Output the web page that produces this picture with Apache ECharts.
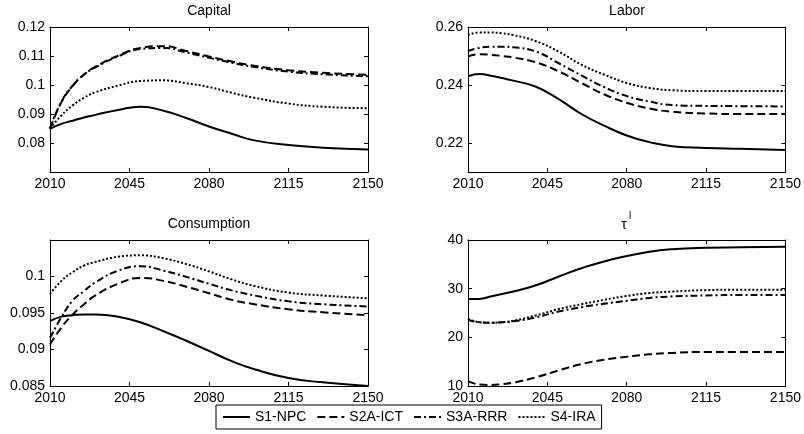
<!DOCTYPE html>
<html><head><meta charset="utf-8">
<script src="https://cdn.jsdelivr.net/npm/echarts@6/dist/echarts.min.js"></script>
<style>html,body{margin:0;padding:0;background:#fff}#c{width:804px;height:434px}</style>
</head><body><div id="c"></div>
<script>
// ---------- data ----------
const years = [2010,2015,2020,2025,2030,2040,2050,2060,2070,2080,2090,2100,2115,2130,2150];
const seriesNames = ['S1-NPC','S2A-ICT','S3A-RRR','S4-IRA'];
const xTicks = [2010,2045,2080,2115,2150];

const capitalS1 = [0.0849,0.0866,0.0877,0.0888,0.0897,0.0914,0.0925,0.0911,0.0886,0.0857,0.0832,0.0809,0.0793,0.0784,0.0778];
const capitalS2 = [0.0850,0.0940,0.0997,0.1036,0.1063,0.1101,0.1128,0.1134,0.1117,0.1098,0.1081,0.1066,0.1051,0.1042,0.1035];
const capitalS3 = [0.0850,0.0942,0.0998,0.1036,0.1061,0.1099,0.1124,0.1128,0.1112,0.1094,0.1077,0.1062,0.1046,0.1037,0.1030];
const capitalS4 = [0.0850,0.0895,0.0930,0.0956,0.0975,0.0998,0.1014,0.1016,0.1006,0.0993,0.0973,0.0956,0.0936,0.0925,0.0920];

const laborS1 = [0.2430,0.2438,0.2432,0.2424,0.2415,0.2394,0.2351,0.2300,0.2260,0.2226,0.2203,0.2189,0.2183,0.2180,0.2176];
const laborS2 = [0.2498,0.2506,0.2504,0.2500,0.2495,0.2478,0.2447,0.2407,0.2368,0.2339,0.2319,0.2308,0.2302,0.2300,0.2300];
const laborS3 = [0.2517,0.2528,0.2532,0.2532,0.2530,0.2515,0.2475,0.2433,0.2393,0.2362,0.2343,0.2331,0.2328,0.2327,0.2326];
const laborS4 = [0.2572,0.2581,0.2581,0.2578,0.2572,0.2551,0.2515,0.2470,0.2436,0.2407,0.2390,0.2382,0.2379,0.2379,0.2379];

const consS1 = [0.0939,0.0945,0.0947,0.0948,0.0948,0.0945,0.0937,0.0925,0.0912,0.0898,0.0884,0.0873,0.0861,0.0855,0.0850];
const consS2 = [0.0907,0.0930,0.0948,0.0962,0.0974,0.0990,0.0998,0.0994,0.0986,0.0977,0.0968,0.0962,0.0955,0.0951,0.0947];
const consS3 = [0.0916,0.0944,0.0967,0.0980,0.0992,0.1008,0.1014,0.1008,0.09995,0.0990,0.0981,0.0974,0.0966,0.0962,0.0959];
const consS4 = [0.0976,0.0994,0.1006,0.1015,0.1020,0.1027,0.1029,0.1025,0.1017,0.1007,0.0996,0.0987,0.0978,0.0974,0.0970];

const tauS1 = [27.9,27.9,28.4,28.9,29.4,30.7,32.5,34.2,35.6,36.7,37.6,38.1,38.4,38.5,38.6];
const tauS2 = [11.0,10.3,10.2,10.4,10.7,11.8,13.2,14.5,15.4,16.0,16.5,16.8,17.0,17.0,17.0];
const tauS3 = [23.6,23.1,23.0,23.1,23.3,24.1,25.3,26.2,26.9,27.5,28.1,28.4,28.6,28.7,28.7];
const tauS4 = [23.8,23.1,23.0,23.1,23.4,24.5,25.8,26.8,27.7,28.5,29.1,29.4,29.7,29.8,29.8];

const capitalTicks = [0.08,0.09,0.1,0.11,0.12];
const laborTicks = [0.22,0.24,0.26];
const consTicks = [0.085,0.09,0.095,0.1];
const tauTicks = [10,20,30,40];

// ---------- layout ----------
const FONT = 'Liberation Sans, Arial, sans-serif';
const panels = [
  {title:'Capital', grid:{left:50,top:27,width:318,height:145}, ymin:0.07, ymax:0.12, ticks:capitalTicks, data:[capitalS1,capitalS2,capitalS3,capitalS4]},
  {title:'Labor', grid:{left:468,top:27,width:318,height:145}, ymin:0.21, ymax:0.26, ticks:laborTicks, data:[laborS1,laborS2,laborS3,laborS4]},
  {title:'Consumption', grid:{left:50,top:240,width:318,height:146}, ymin:0.085, ymax:0.105, ticks:consTicks, data:[consS1,consS2,consS3,consS4]},
  {title:'τ', sup:'l', grid:{left:468,top:240,width:318,height:146}, ymin:10, ymax:40, ticks:tauTicks, data:[tauS1,tauS2,tauS3,tauS4]}
];
const lineTypes = ['solid',[8,4],[7,3,2,3],[2,2]];

const grids = [], xAxes = [], yAxes = [], titles = [], series = [];
const axLine = {show:true, lineStyle:{color:'#000', width:1}};
panels.forEach((p, i) => {
  grids.push(Object.assign({show:false, containLabel:false}, p.grid));
  const cx = p.grid.left + p.grid.width/2;
  titles.push({
    text: p.title, left: p.sup ? cx - 3 : cx, top: p.grid.top - (p.sup ? 15 : 16),
    textAlign:'center', textVerticalAlign:'middle', padding:0,
    textStyle:{fontFamily:FONT, fontSize:14, fontWeight:'normal', color:'#000'}
  });
  if (p.sup) {
    titles.push({
      text: p.sup, left: cx + 3, top: p.grid.top - 24,
      textAlign:'center', textVerticalAlign:'middle', padding:0,
      textStyle:{fontFamily:FONT, fontSize:10, fontWeight:'normal', color:'#000'}
    });
  }
  const xCommon = {type:'value', gridIndex:i, min:2010, max:2150,
    axisLine:axLine, splitLine:{show:false},
    axisTick:{show:true, inside:true, length:4, customValues:xTicks, lineStyle:{color:'#000'}}};
  xAxes.push(Object.assign({}, xCommon, {position:'bottom',
    axisLabel:{show:true, customValues:xTicks, margin:5, color:'#000', fontFamily:FONT, fontSize:14,
      formatter: v => String(v)}}));
  xAxes.push(Object.assign({}, xCommon, {position:'top', axisLabel:{show:false}}));
  const yCommon = {type:'value', gridIndex:i, min:p.ymin, max:p.ymax,
    axisLine:axLine, splitLine:{show:false},
    axisTick:{show:true, inside:true, length:4, customValues:p.ticks, lineStyle:{color:'#000'}}};
  yAxes.push(Object.assign({}, yCommon, {position:'left',
    axisLabel:{show:true, customValues:p.ticks, margin:5, color:'#000', fontFamily:FONT, fontSize:14,
      formatter: v => String(+v.toFixed(4))}}));
  yAxes.push(Object.assign({}, yCommon, {position:'right', axisLabel:{show:false}}));
  p.data.forEach((arr, j) => {
    series.push({
      name: seriesNames[j], type:'line', xAxisIndex:2*i, yAxisIndex:2*i,
      data: years.map((y, k) => [y, arr[k]]),
      showSymbol:false, symbol:'none', smooth:0.5,
      lineStyle:{color:'#000', width:2, type:lineTypes[j]},
      itemStyle:{color:'#000'}, z: 5 - j, silent:true, animation:false
    });
  });
});

const chart = echarts.init(document.getElementById('c'), null, {renderer:'canvas'});
chart.setOption({
  animation:false,
  backgroundColor:'#fff',
  title: titles,
  grid: grids,
  xAxis: xAxes,
  yAxis: yAxes,
  legend:{
    data: seriesNames, left:216, top:405, orient:'horizontal',
    itemWidth:27, itemHeight:14, itemGap:10, padding:[5,6],
    borderColor:'#000', borderWidth:1, backgroundColor:'#fff',
    itemStyle:{color:'rgba(0,0,0,0)', borderWidth:0, opacity:0},
    textStyle:{fontFamily:FONT, fontSize:14, color:'#000'},
    selectedMode:false
  },
  series: series
});
</script></body></html>
